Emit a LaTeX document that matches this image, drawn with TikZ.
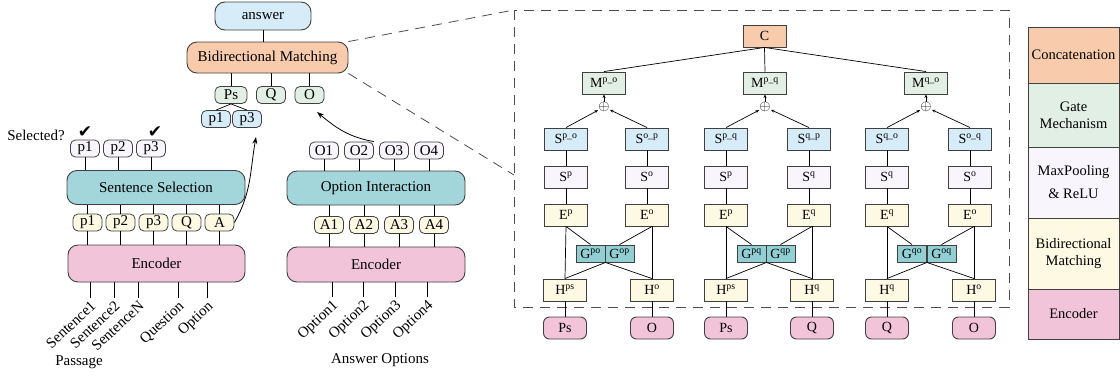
\documentclass[tikz,border=0pt]{standalone}
\usepackage{fontspec}
\setmainfont{Liberation Serif}
\newfontfamily\checkfont{DejaVu Sans}
\usetikzlibrary{arrows.meta}

\definecolor{peach}{HTML}{F8CBAD}
\definecolor{gatebg}{HTML}{E2EFE4}
\definecolor{poolbg}{HTML}{F8F5FD}
\definecolor{matchbg}{HTML}{FEF9E2}
\definecolor{encbg}{HTML}{F2C4DA}
\definecolor{selbg}{HTML}{A2D6DB}
\definecolor{gbg}{HTML}{92CFD4}
\definecolor{ansbg}{HTML}{D6ECF8}
\definecolor{edge}{HTML}{404040}

\tikzset{
  blk/.style={draw=edge, line width=0.9pt, rounded corners=10pt, minimum width=178pt, minimum height=34pt},
  tok/.style={draw=edge, line width=0.8pt, rounded corners=5pt, minimum width=29pt, minimum height=17pt, inner sep=0pt},
  cell/.style={draw=edge, line width=0.9pt, minimum width=43pt, minimum height=22pt, inner sep=0pt, font=\fontsize{14}{16}\selectfont},
  pill/.style={cell, rounded corners=6pt},
  gcell/.style={cell, fill=gbg, minimum width=29pt, minimum height=17pt},
  inlbl/.style={rotate=43, anchor=north east, inner sep=1pt},
  legend/.style={draw=edge, line width=0.6pt, minimum width=91pt, inner sep=0pt, align=center, font=\fontsize{14.5}{17}\selectfont},
  into/.style={-{Stealth[length=3.5pt,width=3pt]}},
  zoomline/.style={draw=black!70, dash pattern=on 10pt off 7pt, line width=0.8pt},
  tick/.style={font=\checkfont\fontsize{17}{17}\selectfont, inner sep=0pt, anchor=south},
}

\begin{document}
\begin{tikzpicture}[x=1pt, y=1pt, node distance=33pt, line width=0.7pt, font=\fontsize{15}{17}\selectfont]
\useasboundingbox (0,0) rectangle (1120,-378);

% passage branch
\node(ans) [blk, fill=ansbg, minimum width=96pt, minimum height=28pt] at (263,-16) {answer};
\node(bm) [blk, fill=peach, minimum width=161pt, minimum height=31pt] at (267.5,-57.5) {Bidirectional Matching};
\node(ps) [tok, fill=gatebg, minimum width=32pt] at (231,-95) {Ps};
\node(q) [tok, fill=gatebg] at (271,-95) {Q};
\node(o) [tok, fill=gatebg] at (309.5,-95) {O};
\node(pa) [tok, fill=ansbg] at (216,-119) {p1};
\node(pb) [tok, fill=ansbg] at (247,-119) {p3};
\draw (ans.south) -- (ans.south |- bm.north);
\draw (ps.north) -- (ps.north |- bm.south);
\draw (q.north) -- (q.north |- bm.south);
\draw (o.north) -- (o.north |- bm.south);
\draw (ps.south) -- (pa.north);
\draw (ps.south) -- (pb.north);

\node(selq) at (36,-135) {Selected?};
\node(s1) [tok, fill=poolbg] at (85,-148.5) {p1};
\node(s2) [tok, fill=poolbg, right of=s1] {p2};
\node(s3) [tok, fill=poolbg, right of=s2] {p3};
\node(ck1) [tick] at ([yshift=2pt]s1.north) {✔};
\node(ck3) [tick] at ([xshift=4pt, yshift=2pt]s3.north) {✔};
\node(sel) [blk, fill=selbg] at (156,-187.5) {Sentence Selection};
\node(e1) [tok, fill=matchbg] at (87.5,-222.5) {p1};
\node(e2) [tok, fill=matchbg, right of=e1] {p2};
\node(e3) [tok, fill=matchbg, right of=e2] {p3};
\node(eq) [tok, fill=matchbg, right of=e3] {Q};
\node(ea) [tok, fill=matchbg, right of=eq] {A};
\node(enc) [blk, fill=encbg, minimum width=177pt, minimum height=37pt] at (156.5,-263.5) {Encoder};
\foreach \n in {s1,s2,s3}
  \draw (\n.south) -- (\n.south |- sel.north);
\foreach \n in {e1,e2,e3,eq,ea} {
  \draw (\n.north) -- (\n.north |- sel.south);
  \draw (\n.south) -- (\n.south |- enc.north);
}
\node(in1) [inlbl] at (90,-298) {Sentence1};
\node(in2) [inlbl] at (114,-298) {Sentence2};
\node(in3) [inlbl] at (138,-298) {SentenceN};
\node(in4) [inlbl] at (178,-298) {Question};
\node(in5) [inlbl] at (207,-298) {Option};
\foreach \n in {in1,in2,in3,in4,in5}
  \draw (\n.north east) -- (\n.north east |- enc.south);
\node(pass) at (79,-362) {Passage};

% option branch
\node(o1) [tok, fill=poolbg] at (324,-150.5) {O1};
\node(o2) [tok, fill=poolbg, right of=o1, node distance=35pt] {O2};
\node(o3) [tok, fill=poolbg, right of=o2, node distance=35pt] {O3};
\node(o4) [tok, fill=poolbg, right of=o3, node distance=35pt] {O4};
\node(oi) [blk, fill=selbg] at (376,-188) {Option Interaction};
\node(a1) [tok, fill=matchbg] at (329,-225) {A1};
\node(a2) [tok, fill=matchbg, right of=a1, node distance=35pt] {A2};
\node(a3) [tok, fill=matchbg, right of=a2, node distance=35pt] {A3};
\node(a4) [tok, fill=matchbg, right of=a3, node distance=35pt] {A4};
\node(enc2) [blk, fill=encbg, minimum height=35pt] at (376,-264.5) {Encoder};
\foreach \n in {o1,o2,o3,o4}
  \draw (\n.south) -- (\n.south |- oi.north);
\foreach \n in {a1,a2,a3,a4} {
  \draw (\n.north) -- (\n.north |- oi.south);
  \draw (\n.south) -- (\n.south |- enc2.north);
}
\node(op1) [inlbl] at (332,-297) {Option1};
\node(op2) [inlbl] at (363,-297) {Option2};
\node(op3) [inlbl] at (395,-297) {Option3};
\node(op4) [inlbl] at (427,-297) {Option4};
\foreach \n in {op1,op2,op3,op4}
  \draw (\n.north east) -- (\n.north east |- enc2.south);
\node(aopt) at (380,-360) {Answer Options};

% arrows up
\coordinate (pin) at (256,-137);
\coordinate (oin) at (317,-112);
\draw[-{Stealth[length=7pt,width=5pt]}, line width=0.8pt] (ea.east) to[out=60, in=-100] (pin);
\draw[-{Stealth[length=7pt,width=5pt]}, line width=0.8pt] (o2.north east) to[out=170, in=-40] (oin);

% zoom of bidirectional matching
\coordinate (zl) at (514,-10);
\coordinate (zb) at (514,-175);
\draw[zoomline] (bm.north east) -- (zl);
\draw[zoomline] (bm.south east) -- (zb);
\draw[zoomline] (514,-10) rectangle (1009,-307);

\node(c) [cell, fill=peach] at (764.5,-36) {C};

% p / o
\node(m1) [cell, fill=gatebg] at (604,-83) {M\textsuperscript{p\_o}};
\node(x1) [inner sep=0pt, font=\fontsize{14}{14}\selectfont] at (604,-107) {$\oplus$};
\node(sa1) [cell, fill=ansbg] at (566,-139) {S\textsuperscript{p\_o}};
\node(sb1) [cell, fill=ansbg] at (647,-139) {S\textsuperscript{o\_p}};
\node(pa1) [cell, fill=poolbg] at (566,-177) {S\textsuperscript{p}};
\node(pb1) [cell, fill=poolbg] at (647,-177) {S\textsuperscript{o}};
\node(ea1) [cell, fill=matchbg] at (566,-215) {E\textsuperscript{p}};
\node(eb1) [cell, fill=matchbg] at (647,-215) {E\textsuperscript{o}};
\node(ga1) [gcell] at (590.5,-253.5) {G\textsuperscript{po}};
\node(gb1) [gcell] at (619.5,-253.5) {G\textsuperscript{op}};
\node(ha1) [cell, fill=matchbg] at (565,-290) {H\textsuperscript{ps}};
\node(hb1) [cell, fill=matchbg] at (652,-290) {H\textsuperscript{o}};
\node(ba1) [pill, fill=encbg] at (565,-328) {Ps};
\node(bb1) [pill, fill=encbg] at (652,-328) {O};

% p / q
\node(m2) [cell, fill=gatebg] at (765,-83) {M\textsuperscript{p\_q}};
\node(x2) [inner sep=0pt, font=\fontsize{14}{14}\selectfont] at (765,-107) {$\oplus$};
\node(sa2) [cell, fill=ansbg] at (726,-139) {S\textsuperscript{p\_q}};
\node(sb2) [cell, fill=ansbg] at (809,-139) {S\textsuperscript{q\_p}};
\node(pa2) [cell, fill=poolbg] at (726,-177) {S\textsuperscript{p}};
\node(pb2) [cell, fill=poolbg] at (809,-177) {S\textsuperscript{q}};
\node(ea2) [cell, fill=matchbg] at (726,-215) {E\textsuperscript{p}};
\node(eb2) [cell, fill=matchbg] at (809,-215) {E\textsuperscript{q}};
\node(ga2) [gcell] at (751.5,-253.5) {G\textsuperscript{pq}};
\node(gb2) [gcell] at (780.5,-253.5) {G\textsuperscript{qp}};
\node(ha2) [cell, fill=matchbg] at (726,-290) {H\textsuperscript{ps}};
\node(hb2) [cell, fill=matchbg] at (812,-290) {H\textsuperscript{q}};
\node(ba2) [pill, fill=encbg] at (726,-328) {Ps};
\node(bb2) [pill, fill=encbg] at (812,-328) {Q};

% q / o
\node(m3) [cell, fill=gatebg] at (926,-83) {M\textsuperscript{q\_o}};
\node(x3) [inner sep=0pt, font=\fontsize{14}{14}\selectfont] at (926,-107) {$\oplus$};
\node(sa3) [cell, fill=ansbg] at (887,-139) {S\textsuperscript{q\_o}};
\node(sb3) [cell, fill=ansbg] at (970,-139) {S\textsuperscript{o\_q}};
\node(pa3) [cell, fill=poolbg] at (887,-177) {S\textsuperscript{q}};
\node(pb3) [cell, fill=poolbg] at (970,-177) {S\textsuperscript{o}};
\node(ea3) [cell, fill=matchbg] at (887,-215) {E\textsuperscript{q}};
\node(eb3) [cell, fill=matchbg] at (970,-215) {E\textsuperscript{o}};
\node(ga3) [gcell] at (912,-253.5) {G\textsuperscript{qo}};
\node(gb3) [gcell] at (941.5,-253.5) {G\textsuperscript{oq}};
\node(ha3) [cell, fill=matchbg] at (887,-290) {H\textsuperscript{q}};
\node(hb3) [cell, fill=matchbg] at (974,-290) {H\textsuperscript{o}};
\node(ba3) [pill, fill=encbg] at (887,-328) {Q};
\node(bb3) [pill, fill=encbg] at (974,-328) {O};

\foreach \i in {1,2,3} {
  \draw (c.south) -- (m\i.north);
  \draw[into] (sa\i.north) -- (x\i);
  \draw[into] (sb\i.north) -- (x\i);
  \draw[into] (x\i) -- (m\i.south);
  \draw (sa\i) -- (pa\i);
  \draw (sb\i) -- (pb\i);
  \draw (pa\i) -- (ea\i);
  \draw (pb\i) -- (eb\i);
  \draw (ea\i.south) -- (ha\i.north);
  \draw (hb\i.north |- eb\i.south) -- (hb\i.north);
  \draw (ea\i.south) -- (ga\i.north);
  \draw (hb\i.north |- eb\i.south) -- (gb\i.north);
  \draw (ga\i.south east) -- (ha\i.north);
  \draw (ga\i.south east) -- (hb\i.north);
  \draw (ha\i) -- (ba\i);
  \draw (hb\i) -- (bb\i);
}

% legend
\node(lc) [legend, fill=peach, minimum height=56pt] at (1073.5,-55) {Concatenation};
\node(lg) [legend, fill=gatebg, minimum height=64pt] at (1073.5,-115) {Gate\\Mechanism};
\node(lm) [legend, fill=poolbg, minimum height=71pt] at (1073.5,-182.5) {MaxPooling\\[6pt]\& ReLU};
\node(lb) [legend, fill=matchbg, minimum height=71pt] at (1073.5,-253.5) {Bidirectional\\Matching};
\node(le) [legend, fill=encbg, minimum height=50pt] at (1073.5,-314) {Encoder};
\end{tikzpicture}
\end{document}
